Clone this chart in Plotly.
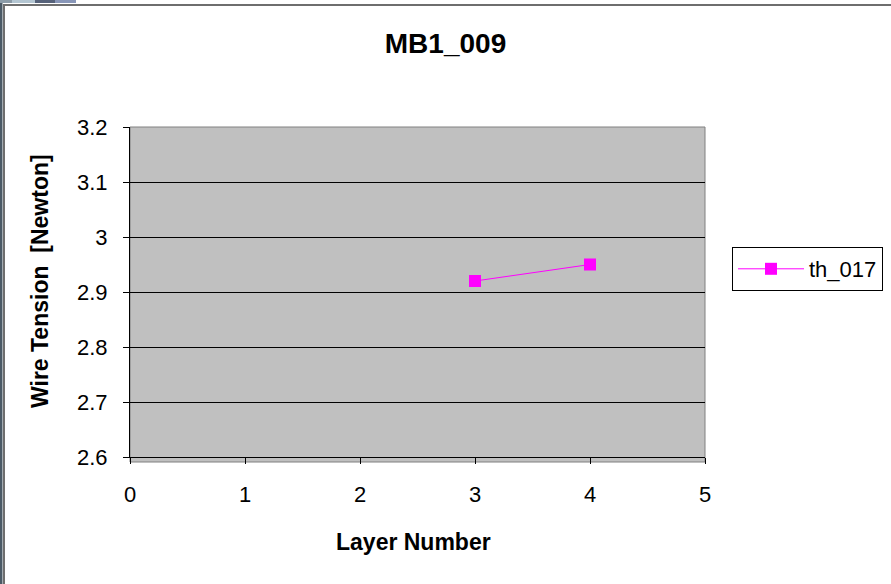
import plotly.graph_objects as go

# Series data
layers = [3, 4]
tension = [2.92, 2.95]
series_name = "th_017"

# Axis ticks
x_ticks = [0, 1, 2, 3, 4, 5]
y_ticks = [2.6, 2.7, 2.8, 2.9, 3.0, 3.1, 3.2]
y_ticktext = ["2.6", "2.7", "2.8", "2.9", "3", "3.1", "3.2"]

W, H = 891, 584
L, R, T, B = 130, 705, 127, 457   # plot-area pixel box
FONT = "Liberation Sans, Arial, sans-serif"


def px(x):
    return (x - L) / (R - L)


def py(y):
    return (B - y) / (B - T)


fig = go.Figure()
fig.add_trace(go.Scatter(
    x=layers, y=tension, name=series_name, mode="lines+markers",
    line=dict(color="#FF00FF", width=1),
    marker=dict(symbol="square", size=12, color="#FF00FF"),
))

shapes = [
    # gray fill continuing a few pixels under the x axis
    dict(type="rect", xref="paper", yref="paper", x0=0, x1=1, y0=py(462), y1=0,
         fillcolor="#C0C0C0", line=dict(width=0), layer="below"),
    # plot-area outline
    dict(type="rect", xref="paper", yref="paper", x0=0, x1=1, y0=py(462), y1=1,
         fillcolor="rgba(0,0,0,0)", line=dict(color="#808080", width=1), layer="below"),
    # window frame
    dict(type="rect", xref="paper", yref="paper", x0=px(0), x1=px(2.5), y0=py(584), y1=py(0),
         fillcolor="#4B5A66", line=dict(width=0)),
    dict(type="rect", xref="paper", yref="paper", x0=px(3), x1=px(5), y0=py(584), y1=py(4),
         fillcolor="#6E6E6E", line=dict(width=0)),
    dict(type="rect", xref="paper", yref="paper", x0=px(3), x1=px(891), y0=py(6), y1=py(4),
         fillcolor="#6E6E6E", line=dict(width=0)),
    dict(type="rect", xref="paper", yref="paper", x0=px(0), x1=px(12), y0=py(3), y1=py(0),
         fillcolor="#8C9CA8", line=dict(width=0)),
    dict(type="rect", xref="paper", yref="paper", x0=px(12), x1=px(35), y0=py(3), y1=py(0),
         fillcolor="#B4C6D2", line=dict(width=0)),
    dict(type="rect", xref="paper", yref="paper", x0=px(35), x1=px(55), y0=py(3), y1=py(0),
         fillcolor="#56627A", line=dict(width=0)),
    dict(type="rect", xref="paper", yref="paper", x0=px(55), x1=px(76), y0=py(3), y1=py(0),
         fillcolor="#8896B8", line=dict(width=0)),
]

fig.update_layout(
    width=W, height=H,
    margin=dict(l=L, r=W - R, t=T, b=H - B, pad=0, autoexpand=False),
    paper_bgcolor="white",
    plot_bgcolor="#C0C0C0",
    font=dict(family=FONT, size=22, color="black"),
    title=dict(text="<b>MB1_009</b>", x=0.5, xref="container", xanchor="center",
               y=1 - 43 / H, yref="container", yanchor="middle",
               font=dict(family=FONT, size=28, color="black")),
    xaxis=dict(range=[0, 5], tickvals=x_ticks, showgrid=False, zeroline=False,
               showline=True, linecolor="black", linewidth=1,
               ticks="outside", ticklen=6, tickcolor="black",
               tickfont=dict(size=22), ticklabelstandoff=12),
    yaxis=dict(range=[2.6, 3.2], tickvals=y_ticks, ticktext=y_ticktext,
               showgrid=True, gridcolor="black", gridwidth=1, zeroline=False,
               showline=True, linecolor="black", linewidth=1,
               ticks="outside", ticklen=6, tickcolor="black",
               tickfont=dict(size=22), ticklabelstandoff=11),
    showlegend=True,
    legend=dict(x=px(732), y=py(247), xanchor="left", yanchor="top",
                xref="paper", yref="paper",
                bgcolor="white", bordercolor="black", borderwidth=1,
                font=dict(family=FONT, size=22), itemwidth=66,
                tracegroupgap=0),
    shapes=shapes,
    annotations=[
        dict(text="<b>Layer Number</b>", xref="paper", yref="paper",
             x=px(413), y=py(542), xanchor="center", yanchor="middle",
             showarrow=False, font=dict(family=FONT, size=23)),
        dict(text="<b>Wire Tension  [Newton]</b>", xref="paper", yref="paper",
             x=px(40), y=py(281), xanchor="center", yanchor="middle",
             textangle=-90, showarrow=False, font=dict(family=FONT, size=23)),
    ],
)

fig.write_html("out.html")
